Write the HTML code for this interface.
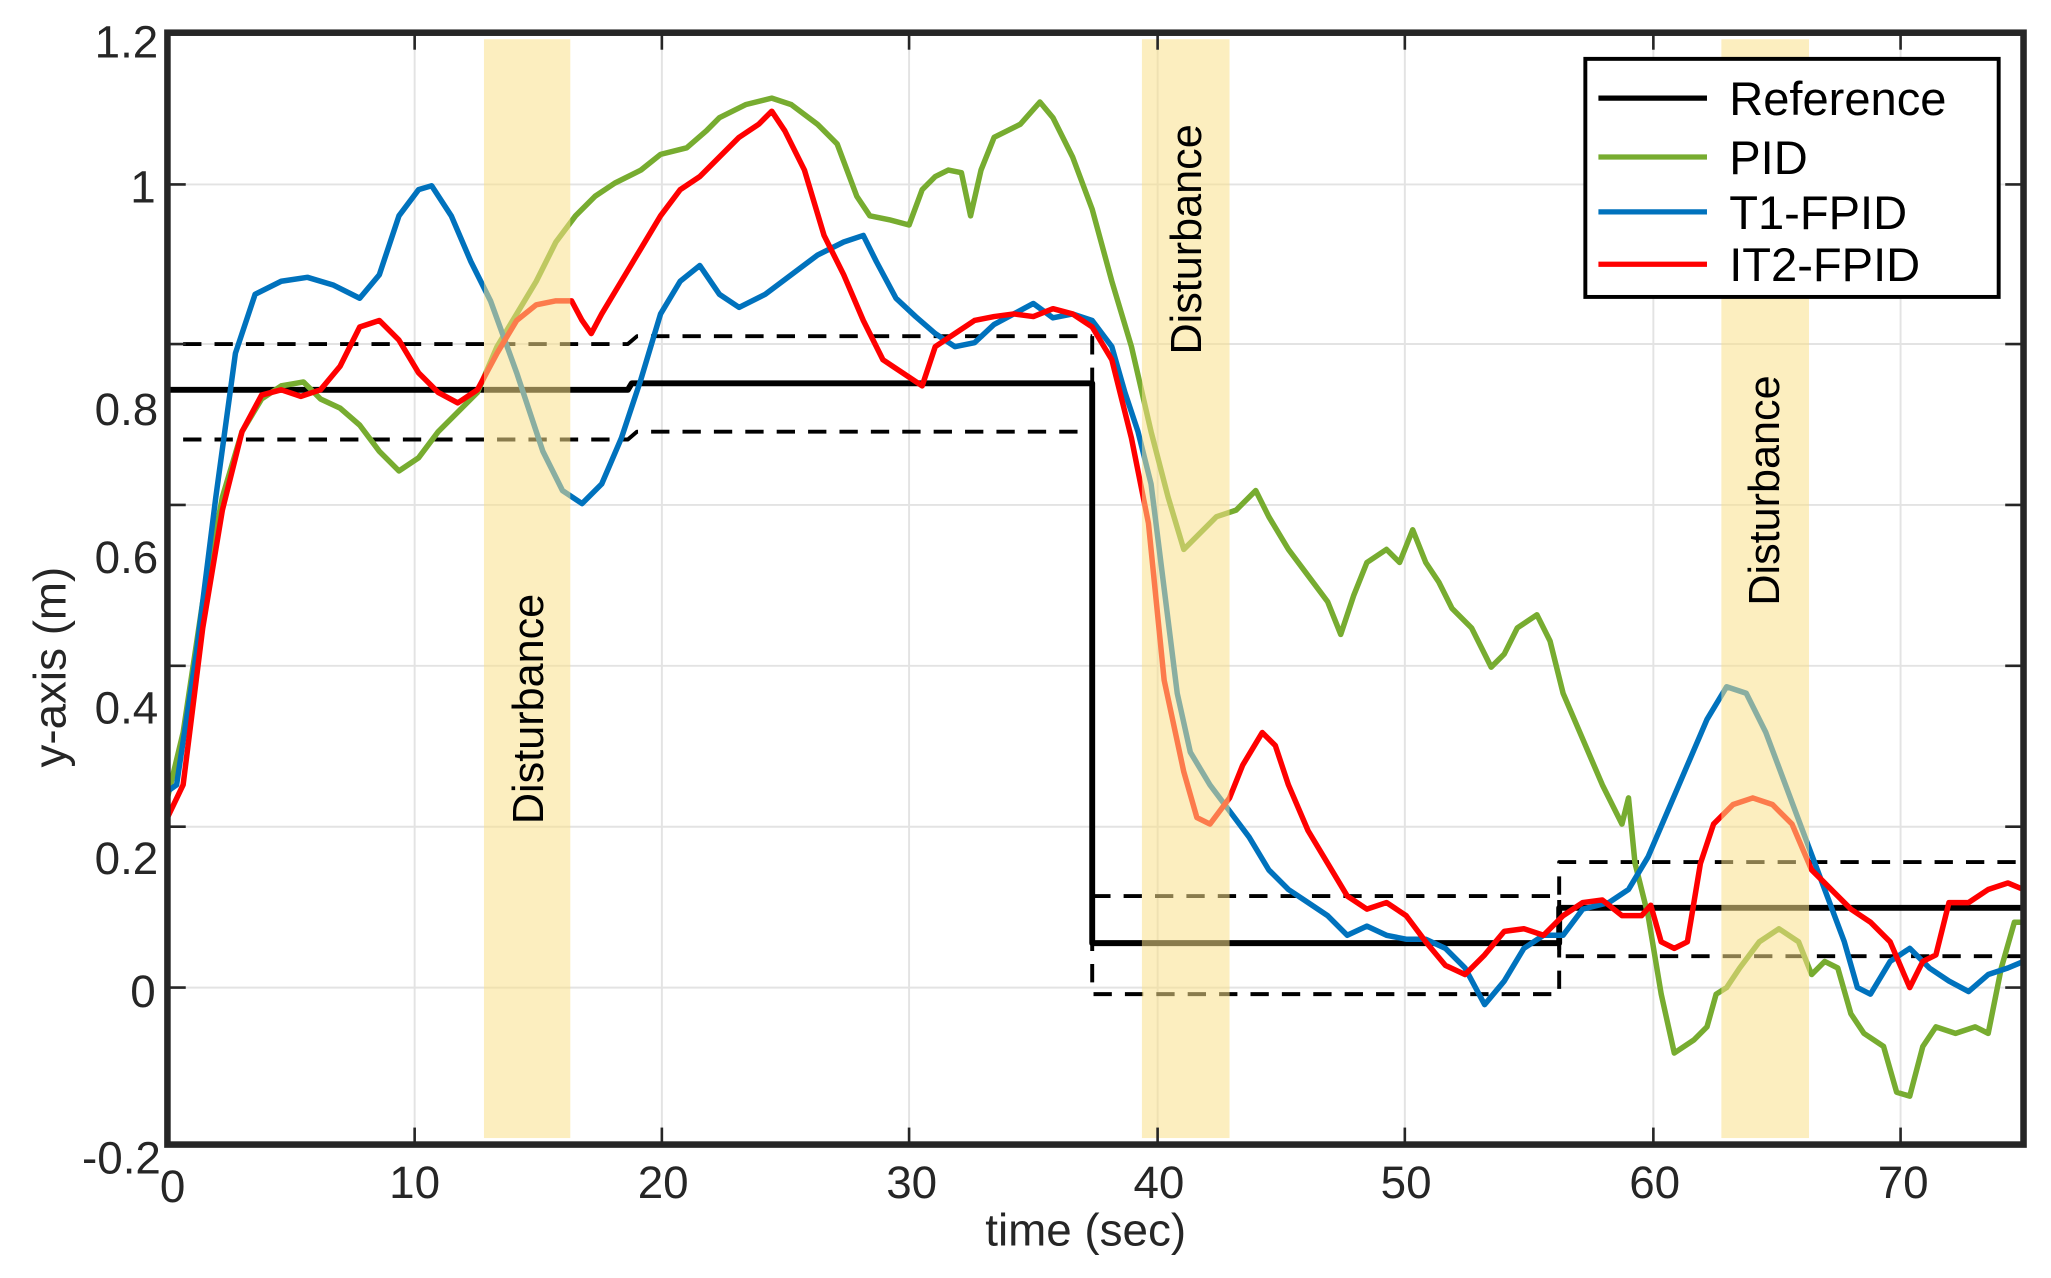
<!DOCTYPE html>
<html><head><meta charset="utf-8"><style>html,body{margin:0;padding:0;background:#fff}svg{display:block}</style></head>
<body>
<svg width="2051" height="1278" viewBox="0 0 1568 977" preserveAspectRatio="none" xmlns="http://www.w3.org/2000/svg" font-family="Liberation Sans, Arial, sans-serif">
<rect width="1568" height="977" fill="#fff"/>
<g stroke="#e3e3e3" stroke-width="1.5">
<line x1="317" y1="25" x2="317" y2="875"/><line x1="506" y1="25" x2="506" y2="875"/><line x1="695" y1="25" x2="695" y2="875"/><line x1="885" y1="25" x2="885" y2="875"/><line x1="1074" y1="25" x2="1074" y2="875"/><line x1="1264" y1="25" x2="1264" y2="875"/><line x1="1453" y1="25" x2="1453" y2="875"/>
<line x1="128" y1="141" x2="1547" y2="141"/><line x1="128" y1="263" x2="1547" y2="263"/><line x1="128" y1="386" x2="1547" y2="386"/><line x1="128" y1="509" x2="1547" y2="509"/><line x1="128" y1="632" x2="1547" y2="632"/><line x1="128" y1="755" x2="1547" y2="755"/>
</g>
<g fill="none" stroke-linejoin="round" stroke-width="4.5">
<polyline stroke="#000" points="128,298 480,298 483,293 835,293 835,721 1192,721 1192,694 1547,694"/>
<g stroke-dasharray="14,10" stroke-width="3" stroke="#000">
<polyline points="140,263 480,263 487,257 835,257"/>
<polyline points="140,336 480,336 487,330 835,330"/>
<polyline points="835,257 835,760 1192,760 1192,659 1547,659"/>
<polyline points="835,685 1192,685 1192,731 1547,731"/>
</g>
<polyline stroke="#77ac30" stroke-width="4.2" points="128,610 140,560 155,460 170,380 185,330 200,305 215,295 232,292 245,305 260,312 275,325 290,345 305,360 320,350 335,330 350,315 365,300 380,265 395,240 410,215 425,185 440,165 455,150 470,140 490,130 505,118 525,113 540,100 550,90 570,80 590,75 605,80 625,95 640,110 655,150 665,165 680,168 695,172 705,145 715,135 725,130 735,132 742,165 750,130 760,105 770,100 780,95 795,78 805,90 820,120 835,160 850,215 865,265 880,330 893,380 905,420 915,410 930,395 945,390 960,375 970,395 985,420 1000,440 1015,460 1025,485 1035,455 1045,430 1060,420 1070,430 1080,405 1090,430 1100,445 1110,465 1125,480 1140,510 1150,500 1160,480 1175,470 1185,490 1195,530 1210,565 1225,600 1240,630 1245,610 1250,660 1260,700 1270,760 1280,805 1295,795 1305,785 1312,760 1320,755 1330,740 1345,720 1360,710 1375,720 1385,745 1395,735 1405,740 1415,775 1425,790 1440,800 1450,835 1460,838 1470,800 1480,785 1495,790 1510,785 1520,790 1530,740 1540,705 1547,705"/>
<polyline stroke="#0072bd" stroke-width="4.2" points="128,605 135,600 150,500 165,380 180,270 195,225 215,215 235,212 255,218 275,228 290,210 305,165 320,145 330,142 345,165 360,200 375,230 395,285 415,345 430,375 445,385 460,370 475,335 490,290 505,240 520,215 535,203 550,225 565,235 585,225 605,210 625,195 645,185 660,180 670,200 685,228 700,242 715,255 730,265 745,262 760,248 775,240 790,232 805,243 820,240 835,245 850,265 860,300 870,330 880,370 890,450 900,530 910,575 925,600 940,620 955,640 970,665 985,680 1000,690 1015,700 1030,715 1045,708 1060,715 1075,718 1090,718 1105,725 1120,740 1135,768 1150,750 1165,725 1180,715 1195,715 1210,695 1230,690 1245,680 1260,655 1275,620 1290,585 1305,550 1320,525 1335,530 1350,560 1365,600 1380,640 1395,680 1410,720 1420,755 1430,760 1445,735 1460,725 1475,740 1490,750 1505,758 1520,745 1535,740 1547,735"/>
<polyline stroke="#ff0000" stroke-width="4.2" points="128,625 140,600 155,480 170,390 185,330 200,302 215,298 230,303 245,298 260,280 275,250 290,245 305,260 320,285 335,300 350,308 365,298 380,270 395,245 410,233 425,230 437,230 445,245 452,255 460,240 475,215 490,190 505,165 520,145 535,135 550,120 565,105 580,95 590,85 600,100 615,130 630,180 645,210 660,245 675,275 690,285 705,295 715,265 730,255 745,245 760,242 775,240 790,242 805,236 820,240 835,250 850,275 865,335 878,400 890,520 905,590 915,625 925,630 940,610 950,585 965,560 975,570 985,600 1000,635 1015,660 1030,685 1045,695 1060,690 1075,700 1090,720 1105,738 1120,745 1135,730 1150,712 1165,710 1180,715 1195,700 1210,690 1225,688 1240,700 1255,700 1262,692 1270,720 1280,725 1290,720 1300,660 1310,630 1325,615 1340,610 1355,615 1370,630 1385,665 1400,680 1415,695 1430,705 1445,720 1460,755 1470,735 1480,730 1490,690 1505,690 1520,680 1535,675 1547,680"/>
</g>
<g fill="#f9e08a" fill-opacity="0.55">
<rect x="370" y="30" width="66" height="840"/><rect x="873" y="30" width="67" height="840"/><rect x="1316" y="30" width="67" height="840"/>
</g>
<g font-size="33" fill="#000">
<text transform="translate(415,542) rotate(-90)" text-anchor="middle">Disturbance</text>
<text transform="translate(918,183) rotate(-90)" text-anchor="middle">Disturbance</text>
<text transform="translate(1360,375) rotate(-90)" text-anchor="middle">Disturbance</text>
</g>
<g stroke="#262626" stroke-width="2">
<line x1="317" y1="875" x2="317" y2="862"/><line x1="506" y1="875" x2="506" y2="862"/><line x1="695" y1="875" x2="695" y2="862"/><line x1="885" y1="875" x2="885" y2="862"/><line x1="1074" y1="875" x2="1074" y2="862"/><line x1="1264" y1="875" x2="1264" y2="862"/><line x1="1453" y1="875" x2="1453" y2="862"/>
<line x1="317" y1="25" x2="317" y2="38"/><line x1="506" y1="25" x2="506" y2="38"/><line x1="695" y1="25" x2="695" y2="38"/><line x1="885" y1="25" x2="885" y2="38"/><line x1="1074" y1="25" x2="1074" y2="38"/><line x1="1264" y1="25" x2="1264" y2="38"/><line x1="1453" y1="25" x2="1453" y2="38"/>
<line x1="128" y1="141" x2="142" y2="141"/><line x1="128" y1="263" x2="142" y2="263"/><line x1="128" y1="386" x2="142" y2="386"/><line x1="128" y1="509" x2="142" y2="509"/><line x1="128" y1="632" x2="142" y2="632"/><line x1="128" y1="755" x2="142" y2="755"/>
<line x1="1547" y1="141" x2="1533" y2="141"/><line x1="1547" y1="263" x2="1533" y2="263"/><line x1="1547" y1="386" x2="1533" y2="386"/><line x1="1547" y1="509" x2="1533" y2="509"/><line x1="1547" y1="632" x2="1533" y2="632"/><line x1="1547" y1="755" x2="1533" y2="755"/>
</g>
<rect x="128" y="25" width="1419" height="850" fill="none" stroke="#262626" stroke-width="5"/>
<g font-size="35" fill="#262626" text-anchor="end">
<text x="121" y="44">1.2</text><text x="119" y="155">1</text><text x="121" y="325">0.8</text><text x="121" y="438">0.6</text><text x="121" y="553">0.4</text><text x="121" y="668">0.2</text><text x="119" y="770">0</text><text x="123" y="897">-0.2</text>
</g>
<g font-size="35" fill="#262626" text-anchor="middle">
<text x="132" y="919">0</text><text x="317" y="916">10</text><text x="507" y="916">20</text><text x="697" y="916">30</text><text x="886" y="916">40</text><text x="1075" y="916">50</text><text x="1265" y="916">60</text><text x="1455" y="916">70</text>
<text x="830" y="952">time (sec)</text>
<text transform="translate(50,510) rotate(-90)">y-axis (m)</text>
</g>
<rect x="1212" y="45" width="316" height="182" fill="#fff" stroke="#000" stroke-width="3"/>
<g stroke-width="4">
<line x1="1222" y1="75" x2="1305" y2="75" stroke="#000"/>
<line x1="1222" y1="120" x2="1305" y2="120" stroke="#77ac30"/>
<line x1="1222" y1="162" x2="1305" y2="162" stroke="#0072bd"/>
<line x1="1222" y1="202" x2="1305" y2="202" stroke="#ff0000"/>
</g>
<g font-size="36" fill="#000">
<text x="1322" y="88">Reference</text><text x="1322" y="133">PID</text><text x="1322" y="175">T1-FPID</text><text x="1322" y="215">IT2-FPID</text>
</g>
</svg>
</body></html>
